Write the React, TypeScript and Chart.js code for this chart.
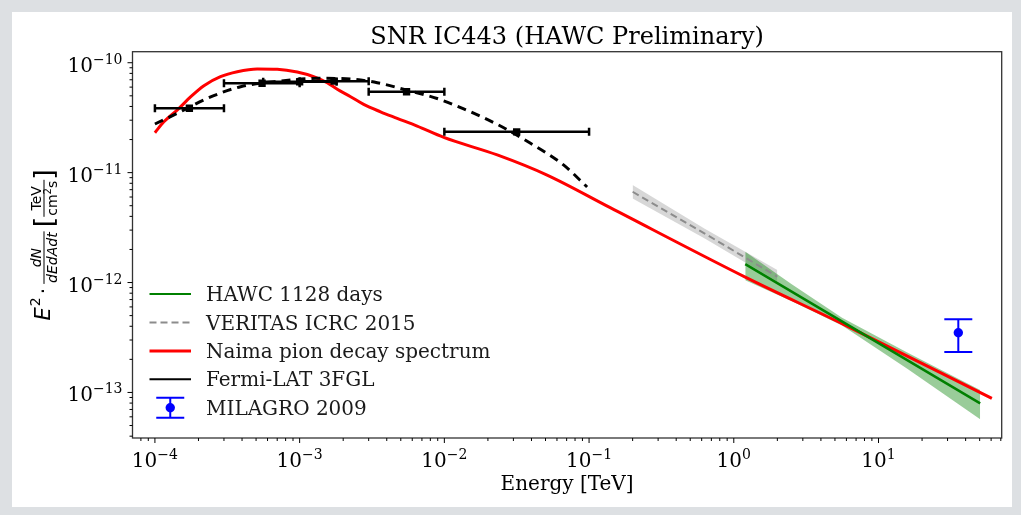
import React, { useEffect, useRef } from "react";
import { Chart, registerables } from "chart.js";

Chart.register(...registerables);

// ---------- text ----------
const chartTitle = "SNR IC443 (HAWC Preliminary)";
const xTitle = "Energy [TeV]";
const legendLabels = [
  "HAWC 1128 days",
  "VERITAS ICRC 2015",
  "Naima pion decay spectrum",
  "Fermi-LAT 3FGL",
  "MILAGRO 2009",
];

// ---------- axes ----------
const xMin = 7.07e-5;
const xMax = 71.0;
const yMin = 3.85e-14;
const yMax = 1.26e-10;
const xMajorExps = [-4, -3, -2, -1, 0, 1];
const yMajorExps = [-13, -12, -11, -10];
const minorMultipliers = [2, 3, 4, 5, 6, 7, 8, 9];

// ---------- Naima pion decay spectrum (red) ----------
const naimaE = [1.0e-4, 1.153e-4, 1.43e-4, 1.77e-4, 2.18e-4, 2.84e-4, 3.71e-4, 5.09e-4, 7.0e-4, 9.62e-4, 1.25e-3, 1.55e-3, 1.82e-3, 2.25e-3, 2.77e-3, 3.62e-3, 4.72e-3, 6.49e-3, 9.91e-3, 0.0232, 0.0513, 0.14, 1.2, 5.73, 60.7];
const naimaF = [2.31e-11, 2.9e-11, 3.72e-11, 4.91e-11, 6.18e-11, 7.46e-11, 8.28e-11, 8.77e-11, 8.71e-11, 8.22e-11, 7.46e-11, 6.58e-11, 5.73e-11, 4.91e-11, 4.18e-11, 3.58e-11, 3.12e-11, 2.65e-11, 2.09e-11, 1.45e-11, 9.5e-12, 4.8e-12, 1.12e-12, 4.16e-13, 8.83e-14];

// ---------- Fermi-LAT 3FGL fit (black dashed) ----------
const fermiFitE = [1.0e-4, 1.5e-4, 2.3e-4, 3.91e-4, 7.38e-4, 1.32e-3, 2.25e-3, 3.44e-3, 5.53e-3, 8.91e-3, 0.0136, 0.0232, 0.0394, 0.0669, 0.0969];
const fermiFitF = [2.77e-11, 3.58e-11, 4.74e-11, 6.05e-11, 6.82e-11, 7.21e-11, 7.11e-11, 6.58e-11, 5.62e-11, 4.73e-11, 3.8e-11, 2.75e-11, 1.85e-11, 1.17e-11, 7.4e-12];

// ---------- Fermi-LAT data points ----------
const fermiPointE = [1.73e-4, 5.5e-4, 1.0e-3, 1.73e-3, 5.48e-3, 3.16e-2];
const fermiPointF = [3.85e-11, 6.5e-11, 6.7e-11, 6.8e-11, 5.44e-11, 2.35e-11];
const fermiPointELow = [1.0e-4, 3.0e-4, 5.6e-4, 1.0e-3, 3.0e-3, 1.0e-2];
const fermiPointEHigh = [3.0e-4, 1.0e-3, 1.8e-3, 3.0e-3, 1.0e-2, 1.0e-1];

// ---------- VERITAS ICRC 2015 ----------
const veritasE = [0.2, 0.63, 2.0];
const veritasF = [6.7e-12, 2.79e-12, 1.13e-12];
const veritasUpper = [7.7e-12, 3.09e-12, 1.3e-12];
const veritasLower = [5.83e-12, 2.52e-12, 1.02e-12];

// ---------- HAWC 1128 days ----------
const hawcE = [1.2, 50.4];
const hawcF = [1.47e-12, 7.96e-14];
const hawcBandE = [1.2, 2.5, 5.6, 15.8, 50.4];
const hawcUpper = [1.91e-12, 9.72e-13, 4.79e-13, 2.31e-13, 1.05e-13];
const hawcLower = [1.05e-12, 6.81e-13, 4.07e-13, 1.64e-13, 5.69e-14];

// ---------- MILAGRO 2009 ----------
const milagroE = [35.6];
const milagroF = [3.49e-13];
const milagroFHigh = [4.63e-13];
const milagroFLow = [2.33e-13];

const pts = (xs: number[], ys: number[]) => xs.map((x, i) => ({ x, y: ys[i] }));

const SERIF = '"DejaVu Serif", serif';
const SANS = '"DejaVu Sans", sans-serif';

function drawPow10(ctx: CanvasRenderingContext2D, exp: number, x: number, baseline: number, align: "center" | "right") {
  const baseFont = `20px ${SERIF}`;
  const expFont = `14px ${SERIF}`;
  const expStr = exp < 0 ? "\u2212" + Math.abs(exp) : String(exp);
  ctx.font = baseFont;
  const wb = ctx.measureText("10").width;
  ctx.font = expFont;
  const we = ctx.measureText(expStr).width;
  const total = wb + we;
  const left = align === "center" ? x - total / 2 : x - total;
  ctx.textAlign = "left";
  ctx.textBaseline = "alphabetic";
  ctx.font = baseFont;
  ctx.fillText("10", left, baseline);
  ctx.font = expFont;
  ctx.fillText(expStr, left + wb, baseline - 8);
}

function drawYLabel(ctx: CanvasRenderingContext2D, cx: number, cy: number) {
  ctx.save();
  ctx.translate(cx, cy);
  ctx.rotate(-Math.PI / 2);
  ctx.fillStyle = "#000";
  ctx.textBaseline = "alphabetic";
  ctx.textAlign = "left";
  const fE = `italic 21px ${SANS}`;
  const fSup = `14px ${SANS}`;
  const fDot = `20px ${SANS}`;
  const fFrI = `italic 14px ${SANS}`;
  const fFr = `14px ${SANS}`;
  const fSup2 = `10px ${SANS}`;
  const fBr = `27px ${SANS}`;
  const m = (f: string, s: string) => { ctx.font = f; return ctx.measureText(s).width; };
  const wE = m(fE, "E");
  const w2 = m(fSup, "2");
  const wDot = m(fDot, "\u00b7");
  const wNum1 = m(fFrI, "dN");
  const wDen1 = m(fFrI, "dEdAdt");
  const wFr1 = Math.max(wNum1, wDen1) + 2;
  const wBr = m(fBr, "[");
  const wNum2 = m(fFr, "TeV");
  const wCm = m(fFr, "cm");
  const wS2 = m(fSup2, "2");
  const wS = m(fFr, "s");
  const wDen2 = wCm + wS2 + wS;
  const wFr2 = Math.max(wNum2, wDen2) + 2;
  const gap = 4;
  const total = wE + w2 + gap + wDot + gap + wFr1 + gap + wBr + wFr2 + wBr;
  let x = -total / 2;
  const bar = -6;
  ctx.font = fE; ctx.fillText("E", x, 0); x += wE;
  ctx.font = fSup; ctx.fillText("2", x + 1, -10); x += w2 + gap;
  ctx.font = fDot; ctx.fillText("\u00b7", x, 0); x += wDot + gap;
  // fraction 1
  ctx.font = fFrI;
  ctx.fillText("dN", x + (wFr1 - wNum1) / 2, bar - 3);
  ctx.fillText("dEdAdt", x + (wFr1 - wDen1) / 2, bar + 13);
  ctx.fillRect(x, bar - 0.5, wFr1, 1);
  x += wFr1 + gap;
  ctx.font = fBr; ctx.fillText("[", x, 3); x += wBr;
  ctx.font = fFr;
  ctx.fillText("TeV", x + (wFr2 - wNum2) / 2, bar - 3);
  let dx = x + (wFr2 - wDen2) / 2;
  ctx.fillText("cm", dx, bar + 13); dx += wCm;
  ctx.font = fSup2; ctx.fillText("2", dx, bar + 7); dx += wS2;
  ctx.font = fFr; ctx.fillText("s", dx, bar + 13);
  ctx.fillRect(x, bar - 0.5, wFr2, 1);
  x += wFr2;
  ctx.font = fBr; ctx.fillText("]", x, 3);
  ctx.restore();
}

const decorPlugin = {
  id: "decor",
  afterDatasetsDraw(chart: any) {
    const { ctx, scales } = chart;
    const xs = scales.x;
    const ys = scales.y;
    ctx.save();
    // Fermi error bars
    ctx.strokeStyle = "#000";
    ctx.lineWidth = 2.5;
    fermiPointE.forEach((_, i) => {
      const py = ys.getPixelForValue(fermiPointF[i]);
      const x1 = xs.getPixelForValue(fermiPointELow[i]);
      const x2 = xs.getPixelForValue(fermiPointEHigh[i]);
      ctx.beginPath();
      ctx.moveTo(x1, py); ctx.lineTo(x2, py);
      ctx.moveTo(x1, py - 4); ctx.lineTo(x1, py + 4);
      ctx.moveTo(x2, py - 4); ctx.lineTo(x2, py + 4);
      ctx.stroke();
    });
    // Milagro error bar
    ctx.strokeStyle = "#0000ff";
    ctx.lineWidth = 2;
    milagroE.forEach((e, i) => {
      const px = xs.getPixelForValue(e);
      const y1 = ys.getPixelForValue(milagroFHigh[i]);
      const y2 = ys.getPixelForValue(milagroFLow[i]);
      ctx.beginPath();
      ctx.moveTo(px, y1); ctx.lineTo(px, y2);
      ctx.moveTo(px - 14, y1); ctx.lineTo(px + 14, y1);
      ctx.moveTo(px - 14, y2); ctx.lineTo(px + 14, y2);
      ctx.stroke();
    });
    ctx.restore();
  },
  afterDraw(chart: any) {
    const { ctx, chartArea, scales } = chart;
    const xs = scales.x;
    const ys = scales.y;
    const { left, right, top, bottom } = chartArea;
    ctx.save();
    // frame
    ctx.strokeStyle = "#333";
    ctx.lineWidth = 1.3;
    ctx.strokeRect(left, top, right - left, bottom - top);
    // ticks
    ctx.strokeStyle = "#000";
    ctx.lineWidth = 1;
    ctx.beginPath();
    const xmin = Math.log10(xMin), xmax = Math.log10(xMax);
    for (let e = Math.floor(xmin); e <= Math.ceil(xmax); e++) {
      const major = Math.pow(10, e);
      if (major >= xMin && major <= xMax) {
        const px = xs.getPixelForValue(major);
        ctx.moveTo(px, bottom); ctx.lineTo(px, bottom + 5);
      }
      minorMultipliers.forEach((k) => {
        const v = k * major;
        if (v >= xMin && v <= xMax) {
          const px = xs.getPixelForValue(v);
          ctx.moveTo(px, bottom); ctx.lineTo(px, bottom + 3);
        }
      });
    }
    const ymin = Math.log10(yMin), ymax = Math.log10(yMax);
    for (let e = Math.floor(ymin); e <= Math.ceil(ymax); e++) {
      const major = Math.pow(10, e);
      if (major >= yMin && major <= yMax) {
        const py = ys.getPixelForValue(major);
        ctx.moveTo(left, py); ctx.lineTo(left - 5, py);
      }
      minorMultipliers.forEach((k) => {
        const v = k * major;
        if (v >= yMin && v <= yMax) {
          const py = ys.getPixelForValue(v);
          ctx.moveTo(left, py); ctx.lineTo(left - 3, py);
        }
      });
    }
    ctx.stroke();
    // tick labels
    ctx.fillStyle = "#000";
    xMajorExps.forEach((e) => {
      const px = xs.getPixelForValue(Math.pow(10, e));
      drawPow10(ctx, e, px, bottom + 29, "center");
    });
    yMajorExps.forEach((e) => {
      const py = ys.getPixelForValue(Math.pow(10, e));
      drawPow10(ctx, e, left - 10, py + 9, "right");
    });
    // axis titles
    ctx.textAlign = "center";
    ctx.textBaseline = "alphabetic";
    ctx.font = `20px ${SERIF}`;
    ctx.fillText(xTitle, (left + right) / 2, bottom + 52);
    ctx.font = `24px ${SERIF}`;
    ctx.fillText(chartTitle, (left + right) / 2, top - 8);
    drawYLabel(ctx, 50, (top + bottom) / 2);

    // legend
    const rowY = (i: number) => bottom - 30.3 - (4 - i) * 28.4;
    const lx1 = left + 17, lx2 = left + 58.5, tx = left + 73.5;
    ctx.lineCap = "butt";
    // HAWC
    ctx.strokeStyle = "#008000"; ctx.lineWidth = 2; ctx.setLineDash([]);
    ctx.beginPath(); ctx.moveTo(lx1, rowY(0)); ctx.lineTo(lx2, rowY(0)); ctx.stroke();
    // VERITAS
    ctx.strokeStyle = "#8c8c8c"; ctx.lineWidth = 2; ctx.setLineDash([7, 4]);
    ctx.beginPath(); ctx.moveTo(lx1, rowY(1)); ctx.lineTo(lx2, rowY(1)); ctx.stroke();
    ctx.setLineDash([]);
    // Naima
    ctx.strokeStyle = "#ff0000"; ctx.lineWidth = 3;
    ctx.beginPath(); ctx.moveTo(lx1, rowY(2)); ctx.lineTo(lx2, rowY(2)); ctx.stroke();
    // Fermi
    ctx.strokeStyle = "#000"; ctx.lineWidth = 2;
    ctx.beginPath(); ctx.moveTo(lx1, rowY(3)); ctx.lineTo(lx2, rowY(3)); ctx.stroke();
    // Milagro
    const mx = (lx1 + lx2) / 2, my = rowY(4);
    ctx.strokeStyle = "#0000ff"; ctx.fillStyle = "#0000ff"; ctx.lineWidth = 2;
    ctx.beginPath();
    ctx.moveTo(mx, my - 10); ctx.lineTo(mx, my + 10);
    ctx.moveTo(mx - 14, my - 10); ctx.lineTo(mx + 14, my - 10);
    ctx.moveTo(mx - 14, my + 10); ctx.lineTo(mx + 14, my + 10);
    ctx.stroke();
    ctx.beginPath(); ctx.arc(mx, my, 4.7, 0, Math.PI * 2); ctx.fill();
    ctx.fillStyle = "#1a1a1a";
    ctx.textAlign = "left";
    ctx.font = `20px ${SERIF}`;
    legendLabels.forEach((lab, i) => ctx.fillText(lab, tx, rowY(i) + 7));
    ctx.restore();
  },
};

export default function App() {
  const ref = useRef<HTMLCanvasElement | null>(null);
  useEffect(() => {
    if (!ref.current) return;
    const chart = new Chart(ref.current, {
      type: "scatter",
      data: {
        datasets: [
          {
            label: legendLabels[4],
            data: pts(milagroE, milagroF),
            showLine: false,
            pointRadius: 4.7,
            pointBackgroundColor: "#0000ff",
            pointBorderWidth: 0,
            pointBorderColor: "#0000ff",
          },
          {
            label: "Fermi-LAT points",
            data: pts(fermiPointE, fermiPointF),
            showLine: false,
            pointStyle: "rect",
            pointRadius: 5.2,
            pointBackgroundColor: "#000",
            pointBorderWidth: 0,
            pointBorderColor: "#000",
          },
          {
            label: legendLabels[0],
            data: pts(hawcE, hawcF),
            showLine: true,
            borderColor: "#008000",
            borderWidth: 2.5,
            pointRadius: 0,
          },
          {
            label: legendLabels[1],
            data: pts(veritasE, veritasF),
            showLine: true,
            borderColor: "#8c8c8c",
            borderWidth: 2,
            borderDash: [7, 4],
            pointRadius: 0,
          },
          {
            label: legendLabels[3],
            data: pts(fermiFitE, fermiFitF),
            showLine: true,
            borderColor: "#000",
            borderWidth: 3,
            borderDash: [9, 6],
            cubicInterpolationMode: "monotone",
            pointRadius: 0,
          },
          {
            label: legendLabels[2],
            data: pts(naimaE, naimaF),
            showLine: true,
            borderColor: "#ff0000",
            borderWidth: 3,
            cubicInterpolationMode: "monotone",
            pointRadius: 0,
          },
          {
            label: "HAWC upper",
            data: pts(hawcBandE, hawcUpper),
            showLine: true,
            borderColor: "rgba(0,0,0,0)",
            borderWidth: 0,
            backgroundColor: "rgba(0,128,0,0.4)",
            fill: "+1",
            pointRadius: 0,
          },
          {
            label: "HAWC lower",
            data: pts(hawcBandE, hawcLower),
            showLine: true,
            borderColor: "rgba(0,0,0,0)",
            borderWidth: 0,
            fill: false,
            pointRadius: 0,
          },
          {
            label: "VERITAS upper",
            data: pts(veritasE, veritasUpper),
            showLine: true,
            borderColor: "rgba(0,0,0,0)",
            borderWidth: 0,
            backgroundColor: "rgba(140,140,140,0.35)",
            fill: "+1",
            pointRadius: 0,
          },
          {
            label: "VERITAS lower",
            data: pts(veritasE, veritasLower),
            showLine: true,
            borderColor: "rgba(0,0,0,0)",
            borderWidth: 0,
            fill: false,
            pointRadius: 0,
          },
        ],
      },
      options: {
        responsive: false,
        animation: false,
        events: [],
        layout: { padding: { left: 132.5, right: 19.3, top: 51.7, bottom: 77 } },
        plugins: { legend: { display: false }, tooltip: { enabled: false }, title: { display: false } },
        scales: {
          x: { type: "logarithmic", min: xMin, max: xMax, display: false },
          y: { type: "logarithmic", min: yMin, max: yMax, display: false },
        },
      } as any,
      plugins: [decorPlugin],
    });
    return () => chart.destroy();
  }, []);
  return (
    <div style={{ position: "absolute", left: 0, top: 0, width: 1021, height: 515, background: "#dde0e3", overflow: "hidden" }}>
      <div style={{ position: "absolute", left: 12, top: 12, width: 1000, height: 495, background: "#ffffff" }} />
      <canvas ref={ref} width={1021} height={515} style={{ position: "absolute", left: 0, top: 0, width: 1021, height: 515 }} />
    </div>
  );
}
